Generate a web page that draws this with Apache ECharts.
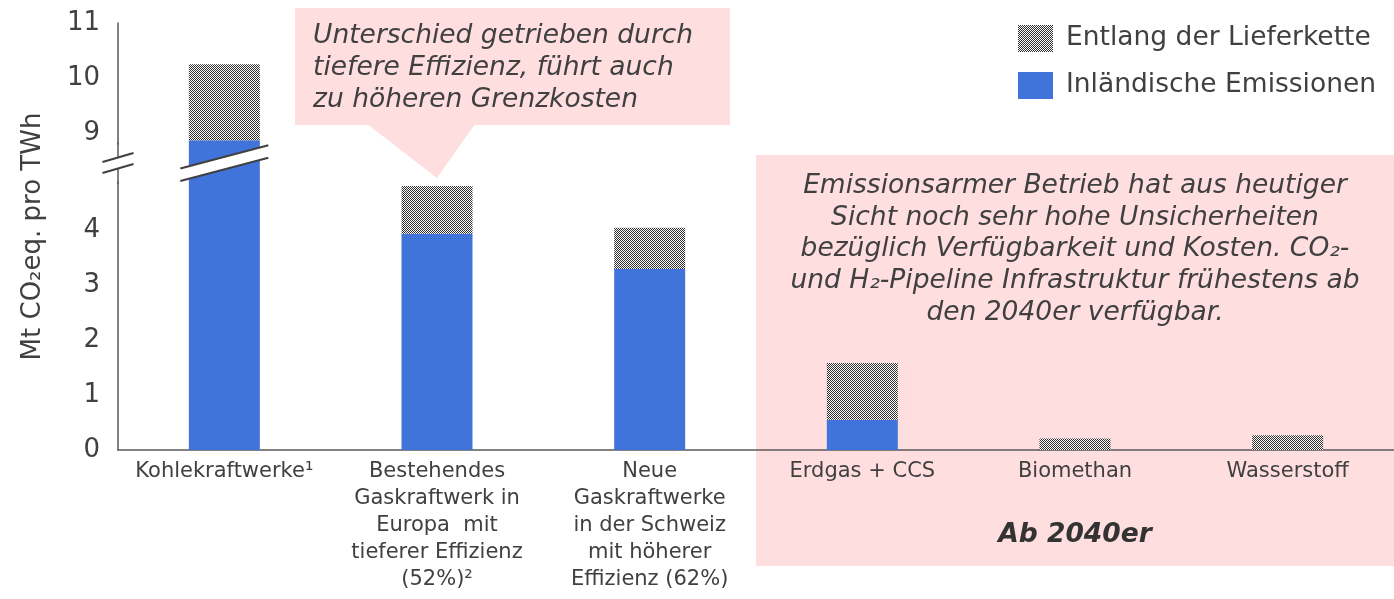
<!DOCTYPE html>
<html>
<head>
<meta charset="utf-8">
<script src="https://cdn.jsdelivr.net/npm/echarts@6/dist/echarts.min.js"></script>
<style>
  html, body { margin: 0; padding: 0; background: #ffffff; }
  #chart { width: 1394px; height: 599px; }
</style>
</head>
<body>
<div id="chart"></div>
<script>
// Emission intensity per technology (Mt CO2eq. per TWh)
const categories = [
  'Kohlekraftwerke¹',
  'Bestehendes\nGaskraftwerk in\nEuropa  mit\ntieferer Effizienz\n(52%)²',
  'Neue\nGaskraftwerke\nin der Schweiz\nmit höherer\nEffizienz (62%)',
  'Erdgas + CCS',
  'Biomethan',
  'Wasserstoff'
];
const domesticEmissions = [8.87, 3.93, 3.29, 0.55, 0, 0];
const supplyChainEmissions = [1.38, 0.87, 0.75, 1.03, 0.21, 0.27];
const seriesNames = ['Inländische Emissionen', 'Entlang der Lieferkette'];
const yTickValues = [0, 1, 2, 3, 4, 9, 10, 11];
const axisBreak = { start: 4.87, end: 8.8, gap: 0.694 };

const TEXT = '#404040';
const BLUE = '#4174DB';
const PINK = '#FFDEE0';
const FONT = 'DejaVu Sans';

// fine black/white checkerboard fill for the supply-chain share
function checkerPattern() {
  const c = document.createElement('canvas');
  c.width = 2; c.height = 2;
  const g = c.getContext('2d');
  g.fillStyle = '#ffffff'; g.fillRect(0, 0, 2, 2);
  g.fillStyle = '#2e2e2e'; g.fillRect(0, 0, 1, 1); g.fillRect(1, 1, 1, 1);
  return { image: c, repeat: 'repeat' };
}

const chart = echarts.init(document.getElementById('chart'), null, { renderer: 'canvas' });
const BAR_WIDTH = 71;

chart.setOption({
  animation: false,
  textStyle: { fontFamily: FONT },
  grid: { left: 118, right: 0, top: 23, bottom: 149, containLabel: false },
  legend: {
    orient: 'vertical',
    left: 1013, top: 20,
    itemWidth: 35, itemHeight: 27, itemGap: 20,
    icon: 'rect',
    data: [seriesNames[1], seriesNames[0]],
    textStyle: { fontFamily: FONT, fontSize: 26.5, color: TEXT, padding: [3, 0, 0, 8] },
    selectedMode: false
  },
  xAxis: {
    type: 'category',
    data: categories,
    axisLine: { lineStyle: { color: '#595959', width: 1.5 } },
    axisTick: { show: false },
    axisLabel: { interval: 0, color: TEXT, fontSize: 21, lineHeight: 27, margin: 8, fontFamily: FONT }
  },
  yAxis: {
    type: 'value',
    min: yTickValues[0], max: yTickValues[yTickValues.length - 1], interval: 1,
    breaks: [axisBreak],
    breakArea: {
      itemStyle: { color: 'rgba(0,0,0,0)', borderColor: 'rgba(0,0,0,0)', borderWidth: 0, opacity: 0 },
      zigzagAmplitude: 0,
      expandOnClick: false
    },
    breakLabelLayout: { moveOverlap: false },
    name: 'Mt CO₂eq. pro TWh',
    nameLocation: 'middle',
    nameGap: 72,
    nameTextStyle: { fontSize: 26, color: TEXT, fontFamily: FONT },
    axisLine: { show: true, lineStyle: { color: '#595959', width: 1.5 } },
    axisTick: { show: false },
    splitLine: { show: false },
    axisLabel: {
      color: TEXT, fontSize: 26, margin: 18, fontFamily: FONT, hideOverlap: false,
      padding: [5, 0, 0, 0],
      customValues: yTickValues,
      formatter: v => String(v)
    }
  },
  series: [
    {
      name: seriesNames[0], type: 'bar', stack: 'total', barWidth: BAR_WIDTH,
      itemStyle: { color: BLUE }, data: domesticEmissions, z: 3
    },
    {
      name: seriesNames[1], type: 'bar', stack: 'total', barWidth: BAR_WIDTH,
      itemStyle: { color: checkerPattern() }, data: supplyChainEmissions, z: 3
    }
  ]
});

// annotation boxes and the axis-break marks
function drawOverlays() {
  const yLo = chart.convertToPixel({ yAxisIndex: 0 }, axisBreak.start);
  const yHi = chart.convertToPixel({ yAxisIndex: 0 }, axisBreak.end);
  const cy = (yLo + yHi) / 2;
  const grid0 = chart.getModel().getComponent('grid').coordinateSystem.getRect();
  const axisX = grid0.x;
  const barX = chart.convertToPixel({ xAxisIndex: 0 }, categories[0]);
  const cat2X = chart.convertToPixel({ xAxisIndex: 0 }, categories[1]);
  const cat2Top = chart.convertToPixel({ yAxisIndex: 0 }, domesticEmissions[1] + supplyChainEmissions[1]);
  const bandW = grid0.width / categories.length;
  const futureLeft = grid0.x + 3 * bandW;
  const futureMid = futureLeft + (grid0.x + grid0.width - futureLeft) / 2;

  function breakMark(cx, halfW, slope, sep, id) {
    const x0 = cx - halfW, x1 = cx + halfW;
    const up0 = cy - sep / 2 - slope * halfW, up1 = cy - sep / 2 + slope * halfW;
    const lo0 = cy + sep / 2 - slope * halfW, lo1 = cy + sep / 2 + slope * halfW;
    return [
      { type: 'polygon', id: id + 'fill', z: 50, silent: true,
        shape: { points: [[x0, up0], [x1, up1], [x1, lo1], [x0, lo0]] },
        style: { fill: '#ffffff' } },
      { type: 'line', id: id + 'a', z: 51, silent: true,
        shape: { x1: x0, y1: up0, x2: x1, y2: up1 },
        style: { stroke: '#404040', lineWidth: 2 } },
      { type: 'line', id: id + 'b', z: 51, silent: true,
        shape: { x1: x0, y1: lo0, x2: x1, y2: lo1 },
        style: { stroke: '#404040', lineWidth: 2 } }
    ];
  }

  const elements = [
    // keep the value axis line continuous through the break
    { type: 'line', id: 'axisBridge', z: 49, silent: true,
      shape: { x1: axisX, y1: yHi - 2, x2: axisX, y2: yLo + 2 },
      style: { stroke: '#595959', lineWidth: 1.5 } },
    // future-technology band
    { type: 'rect', id: 'futureBox', z: -1, silent: true,
      shape: { x: futureLeft, y: 155, width: grid0.x + grid0.width - futureLeft, height: 411 },
      style: { fill: PINK } },
    { type: 'text', id: 'futureText', z: 5, silent: true,
      style: {
        x: futureMid, y: 170,
        text: 'Emissionsarmer Betrieb hat aus heutiger\nSicht noch sehr hohe Unsicherheiten\nbezüglich Verfügbarkeit und Kosten. CO₂-\nund H₂-Pipeline Infrastruktur frühestens ab\nden 2040er verfügbar.',
        align: 'center', verticalAlign: 'top',
        font: 'italic 26.5px "DejaVu Sans"', lineHeight: 31.8, fill: TEXT
      } },
    { type: 'text', id: 'futureLabel', z: 5, silent: true,
      style: {
        x: futureMid, y: 535,
        text: 'Ab 2040er', align: 'center', verticalAlign: 'middle',
        font: 'italic bold 26.5px "DejaVu Sans"', fill: '#333333'
      } },
    // callout for the efficiency comment
    { type: 'polygon', id: 'calloutTail', z: 1, silent: true,
      shape: { points: [[cat2X - 70, 124], [cat2X + 38, 124], [cat2X, cat2Top - 8]] },
      style: { fill: PINK } },
    { type: 'rect', id: 'calloutBox', z: 1, silent: true,
      shape: { x: 295, y: 8, width: 435, height: 117 },
      style: { fill: PINK } },
    { type: 'text', id: 'calloutText', z: 5, silent: true,
      style: {
        x: 313, y: 20,
        text: 'Unterschied getrieben durch\ntiefere Effizienz, führt auch\nzu höheren Grenzkosten',
        align: 'left', verticalAlign: 'top',
        font: 'italic 26.5px "DejaVu Sans"', lineHeight: 32, fill: TEXT
      } }
  ].concat(
    breakMark(axisX, 15.5, -0.29, 11, 'brkAxis'),
    breakMark(barX, 44, -0.265, 12.5, 'brkBar')
  );

  chart.setOption({ graphic: { elements: elements } });
}

drawOverlays();
</script>
</body>
</html>
